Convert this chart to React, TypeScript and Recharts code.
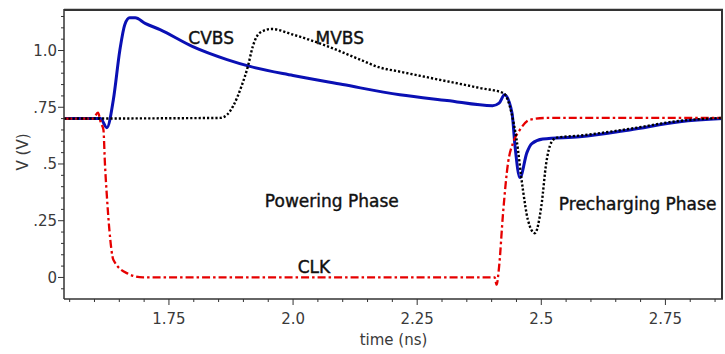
import React from "react";
import { LineChart, Line, XAxis, YAxis, ReferenceDot, CartesianGrid } from "recharts";

// Bit-line voltages over one clock cycle (time in ns, voltage in V)
const cvbs = [
  { t: 1.539, v: 0.7 }, { t: 1.612, v: 0.7 }, { t: 1.625, v: 0.66 }, { t: 1.638, v: 0.783 },
  { t: 1.651, v: 1.0 }, { t: 1.661, v: 1.114 }, { t: 1.671, v: 1.144 }, { t: 1.682, v: 1.144 },
  { t: 1.702, v: 1.12 }, { t: 1.732, v: 1.092 }, { t: 1.798, v: 1.017 }, { t: 1.867, v: 0.96 },
  { t: 1.913, v: 0.93 }, { t: 2.0, v: 0.89 }, { t: 2.1, v: 0.85 }, { t: 2.215, v: 0.805 },
  { t: 2.31, v: 0.78 }, { t: 2.402, v: 0.757 }, { t: 2.415, v: 0.768 }, { t: 2.426, v: 0.805 },
  { t: 2.441, v: 0.725 }, { t: 2.447, v: 0.58 }, { t: 2.457, v: 0.44 }, { t: 2.471, v: 0.55 },
  { t: 2.481, v: 0.59 }, { t: 2.503, v: 0.61 }, { t: 2.577, v: 0.62 }, { t: 2.678, v: 0.65 },
  { t: 2.779, v: 0.686 }, { t: 2.866, v: 0.7 },
];

const mvbs = [
  { t: 1.539, v: 0.7 }, { t: 1.853, v: 0.703 }, { t: 1.867, v: 0.717 }, { t: 1.879, v: 0.754 },
  { t: 1.896, v: 0.842 }, { t: 1.909, v: 0.93 }, { t: 1.919, v: 1.019 }, { t: 1.933, v: 1.078 },
  { t: 1.957, v: 1.095 }, { t: 2.0, v: 1.07 }, { t: 2.068, v: 1.02 }, { t: 2.135, v: 0.96 },
  { t: 2.175, v: 0.925 }, { t: 2.215, v: 0.907 }, { t: 2.275, v: 0.88 }, { t: 2.376, v: 0.835 },
  { t: 2.424, v: 0.812 }, { t: 2.44, v: 0.725 }, { t: 2.45, v: 0.61 }, { t: 2.463, v: 0.386 },
  { t: 2.473, v: 0.254 }, { t: 2.487, v: 0.195 }, { t: 2.5, v: 0.313 }, { t: 2.51, v: 0.505 },
  { t: 2.52, v: 0.594 }, { t: 2.531, v: 0.616 }, { t: 2.577, v: 0.625 }, { t: 2.678, v: 0.655 },
  { t: 2.779, v: 0.69 }, { t: 2.866, v: 0.703 },
];

const clk = [
  { t: 1.539, v: 0.7 }, { t: 1.597, v: 0.7 }, { t: 1.607, v: 0.726 }, { t: 1.613, v: 0.68 },
  { t: 1.618, v: 0.651 }, { t: 1.621, v: 0.504 }, { t: 1.625, v: 0.357 }, { t: 1.63, v: 0.21 },
  { t: 1.638, v: 0.078 }, { t: 1.665, v: 0.019 }, { t: 1.698, v: 0.0 }, { t: 2.406, v: 0.0 },
  { t: 2.41, v: -0.032 }, { t: 2.415, v: 0.048 }, { t: 2.423, v: 0.284 }, { t: 2.433, v: 0.504 },
  { t: 2.443, v: 0.593 }, { t: 2.457, v: 0.651 }, { t: 2.477, v: 0.695 }, { t: 2.511, v: 0.703 },
  { t: 2.866, v: 0.703 },
];

const xDomain = [1.5386, 2.866];
const yDomain = [-0.095, 1.183];

const xTicks = [
  1.55, 1.6, 1.65, 1.7, 1.75, 1.8, 1.85, 1.9, 1.95, 2.0, 2.05, 2.1, 2.15, 2.2,
  2.25, 2.3, 2.35, 2.4, 2.45, 2.5, 2.55, 2.6, 2.65, 2.7, 2.75, 2.8, 2.85,
];
const xMajor = [1.75, 2.0, 2.25, 2.5, 2.75];
const xMajorLabels = ["1.75", "2.0", "2.25", "2.5", "2.75"];

const yTicks = [
  -0.05, 0, 0.05, 0.1, 0.15, 0.2, 0.25, 0.3, 0.35, 0.4, 0.45, 0.5, 0.55, 0.6,
  0.65, 0.7, 0.75, 0.8, 0.85, 0.9, 0.95, 1.0, 1.05, 1.1, 1.15,
];
const yMajor = [0, 0.25, 0.5, 0.75, 1.0];
const yMajorLabels = ["0", ".25", ".5", ".75", "1.0"];

const annotations = [
  { text: "CVBS", t: 1.835, v: 1.055 },
  { text: "MVBS", t: 2.094, v: 1.055 },
  { text: "Powering Phase", t: 2.078, v: 0.339 },
  { text: "Precharging Phase", t: 2.694, v: 0.325 },
  { text: "CLK", t: 2.042, v: 0.047 },
];

const WIDTH = 725;
const HEIGHT = 354;
const MARGIN = { top: 9, right: 2, bottom: 0, left: 0 };
const PLOT_LEFT = 64;
const X_AXIS_HEIGHT = 55;
const AXIS = "#333";
const FONT = "'DejaVu Sans', Verdana, sans-serif";

const majorIndex = (list: number[], v: number) =>
  list.findIndex((m) => Math.abs(m - v) < 1e-6);

const XTick = (props: any) => {
  const { x, y, payload } = props;
  const i = majorIndex(xMajor, payload.value);
  return (
    <g>
      <line x1={x} x2={x} y1={y} y2={y + (i >= 0 ? 6 : 3)} stroke={AXIS} strokeWidth={1} />
      {i >= 0 && (
        <text x={x} y={y + 25} textAnchor="middle" fontSize={15} fill="#3a3a3a" fontFamily={FONT}>
          {xMajorLabels[i]}
        </text>
      )}
    </g>
  );
};

const YTick = (props: any) => {
  const { x, y, payload } = props;
  const i = majorIndex(yMajor, payload.value);
  return (
    <g>
      <line x1={x} x2={x - (i >= 0 ? 6 : 3)} y1={y} y2={y} stroke={AXIS} strokeWidth={1} />
      {i >= 0 && (
        <text x={x - 7} y={y + 5.5} textAnchor="end" fontSize={15} fill="#3a3a3a" fontFamily={FONT}>
          {yMajorLabels[i]}
        </text>
      )}
    </g>
  );
};

const XTitle = (props: any) => {
  const vb = props.viewBox;
  return (
    <text x={vb.x + vb.width / 2} y={vb.y + 46} textAnchor="middle" fontSize={15} fill="#3a3a3a" fontFamily={FONT}>
      time (ns)
    </text>
  );
};

const YTitle = (props: any) => {
  const vb = props.viewBox;
  const cx = 23;
  const cy = vb.y + vb.height / 2 - 2;
  return (
    <text x={cx} y={cy} transform={`rotate(-90 ${cx} ${cy})`} textAnchor="middle" dominantBaseline="central" fontSize={15} fill="#3a3a3a" fontFamily={FONT}>
      V (V)
    </text>
  );
};

const Note = (props: any) => {
  const vb = props.viewBox;
  return (
    <text
      x={vb.x + vb.width / 2}
      y={vb.y + vb.height / 2}
      textAnchor="middle"
      dominantBaseline="central"
      fontSize={17}
      fill="#111"
      stroke="#111"
      strokeWidth={0.4}
      fontFamily={FONT}
    >
      {props.value}
    </text>
  );
};

export default function App() {
  return (
    <div style={{ position: "absolute", left: 0, top: 0, width: WIDTH, height: HEIGHT, background: "#fff" }}>
      <LineChart width={WIDTH} height={HEIGHT} margin={MARGIN}>
        {/* top and right edges of the plot frame as grid lines at the domain limits */}
        <CartesianGrid
          horizontalValues={[yDomain[1] - 0.003]}
          verticalValues={[xDomain[1] - 0.002]}
          stroke={AXIS}
          strokeWidth={2}
          strokeDasharray="0"
        />
        <XAxis
          type="number"
          dataKey="t"
          domain={xDomain}
          allowDataOverflow
          ticks={xTicks}
          interval={0}
          tickSize={0}
          tickMargin={0}
          tickLine={false}
          tick={<XTick />}
          height={X_AXIS_HEIGHT}
          axisLine={{ stroke: AXIS, strokeWidth: 1.5 }}
          label={<XTitle />}
        />
        <YAxis
          type="number"
          dataKey="v"
          domain={yDomain}
          allowDataOverflow
          ticks={yTicks}
          interval={0}
          tickSize={0}
          tickMargin={0}
          tickLine={false}
          tick={<YTick />}
          width={PLOT_LEFT}
          axisLine={{ stroke: AXIS, strokeWidth: 1.5 }}
          label={<YTitle />}
        />
        <Line
          data={cvbs}
          dataKey="v"
          type="monotone"
          stroke="#0a10b4"
          strokeWidth={3}
          dot={false}
          isAnimationActive={false}
        />
        <Line
          data={clk}
          dataKey="v"
          type="monotone"
          stroke="#e60000"
          strokeWidth={2.3}
          strokeDasharray="8 3 2.5 3"
          dot={false}
          isAnimationActive={false}
        />
        <Line
          data={mvbs}
          dataKey="v"
          type="monotone"
          stroke="#000"
          strokeWidth={2.4}
          strokeDasharray="2.2 2"
          dot={false}
          isAnimationActive={false}
        />
        {annotations.map((a) => (
          <ReferenceDot
            key={a.text}
            x={a.t}
            y={a.v}
            r={0}
            fill="none"
            stroke="none"
            ifOverflow="visible"
            label={<Note value={a.text} />}
          />
        ))}
      </LineChart>
      {/* overlay box edges, in case the grid lines are suppressed */}
      <div
        style={{
          position: "absolute",
          left: PLOT_LEFT,
          top: MARGIN.top,
          width: WIDTH - MARGIN.right - PLOT_LEFT,
          height: HEIGHT - MARGIN.top - X_AXIS_HEIGHT,
          borderTop: `2px solid ${AXIS}`,
          borderRight: `2px solid ${AXIS}`,
          boxSizing: "border-box",
          pointerEvents: "none",
          zIndex: 10,
        }}
      />
    </div>
  );
}
